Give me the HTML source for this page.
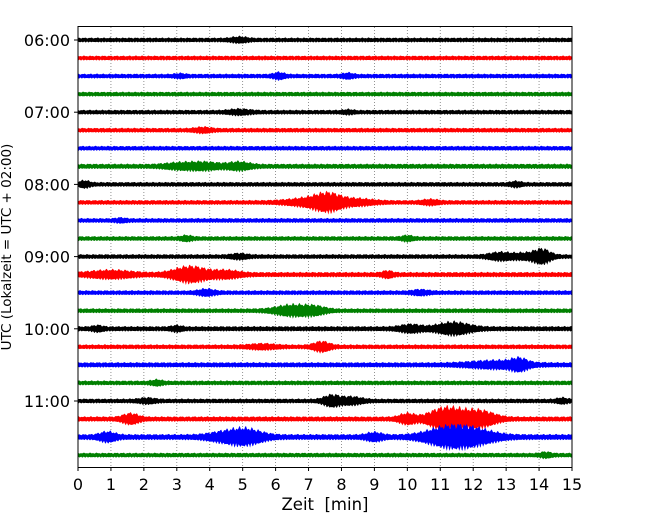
<!DOCTYPE html>
<html><head><meta charset="utf-8"><style>
body{margin:0;background:#fff}
svg{display:block;font-family:"DejaVu Sans","Liberation Sans",sans-serif}
</style></head><body>
<svg id="chart" width="650" height="520" viewBox="0 0 650 520" xmlns="http://www.w3.org/2000/svg">
<rect width="650" height="520" fill="#fff"/>
<g id="grid"></g>
<g id="traces"></g>
<rect x="78" y="26.5" width="494" height="441" fill="none" stroke="#000" stroke-width="1"/>
<g id="axes"></g>
<text x="325" y="510" font-size="16.5" text-anchor="middle" xml:space="preserve">Zeit  [min]</text>
<text transform="translate(11,247) rotate(-90)" font-size="13.5" text-anchor="middle">UTC (Lokalzeit = UTC + 02:00)</text>
</svg>
<script>
const xTicks=[0,1,2,3,4,5,6,7,8,9,10,11,12,13,14,15];
const rowLabels=["06:00","06:15","06:30","06:45","07:00","07:15","07:30","07:45","08:00","08:15","08:30","08:45","09:00","09:15","09:30","09:45","10:00","10:15","10:30","10:45","11:00","11:15","11:30","11:45"];
const baseAmp=[2,2,2,2,2,2,2,2.2,2,2,2,2,2,2.2,2,2,2.2,2,2.2,2,2,2.2,2.5,2];
// events per row: [time(min), amplitude(px), width(min)]
const events=[
[[4.9,1.5,0.3]],
[],
[[6.1,2,0.2],[3.1,1,0.2],[8.2,1.5,0.2]],
[],
[[4.9,1.5,0.4],[8.2,1,0.2]],
[[3.8,1.5,0.3]],
[],
[[3.8,2.5,0.6],[4.9,2.5,0.4],[3,1.5,0.5]],
[[0.2,2,0.2],[13.3,1.5,0.2]],
[[7.6,6,0.5],[7,2.5,0.8],[8.5,2,0.6],[10.7,1.5,0.3]],
[[1.3,1,0.2]],
[[10,1.5,0.2],[3.3,1.5,0.2]],
[[14.1,5,0.3],[12.8,2.5,0.4],[4.9,1.5,0.3],[13.6,2,0.5]],
[[3.4,6,0.6],[1,2.5,0.8],[4.5,2.5,0.5],[9.4,2,0.2]],
[[3.9,2,0.3],[10.4,1.5,0.3]],
[[6.5,4,0.6],[7.2,2.5,0.4]],
[[11.4,4.5,0.6],[10.1,2.5,0.4],[3,1.5,0.2],[0.6,1.5,0.2]],
[[7.4,3.5,0.3],[5.6,1.5,0.5]],
[[12.7,2.5,1],[13.4,3.5,0.3]],
[[2.4,1.5,0.2]],
[[7.7,4,0.3],[8.3,2.5,0.4],[2.1,1.5,0.3],[14.7,1.5,0.2]],
[[11.5,6.5,0.7],[10,3.5,0.3],[12.3,4.5,0.5],[1.6,3.5,0.3],[11,4.5,0.5]],
[[11.2,6.5,0.8],[12,5,0.8],[5.1,5.5,0.6],[4.4,2.5,0.6],[0.9,3,0.3],[9,2.5,0.3]],
[[14.2,1.5,0.2]]
];
const colors=["#000000","#ff0000","#0000ff","#008000"];
const NS="http://www.w3.org/2000/svg";
const X0=78,X1=572,Y0=40,DY=18.05;
const xs=t=>X0+(t/15)*(X1-X0);
const ys=i=>Y0+i*DY;
const grid=document.getElementById('grid'),tr=document.getElementById('traces'),ax=document.getElementById('axes');
xTicks.forEach(t=>{
  if(t>0&&t<15){
    const l=document.createElementNS(NS,'line');
    
    
    l.setAttribute('x1',xs(t));l.setAttribute('x2',xs(t));l.setAttribute('y1',27);l.setAttribute('y2',467);
    l.setAttribute('stroke','#777');l.setAttribute('stroke-width','0.8');l.setAttribute('stroke-dasharray','1,2');
    grid.appendChild(l);
  }
  const tk=document.createElementNS(NS,'line');
  
  
  tk.setAttribute('x1',xs(t));tk.setAttribute('x2',xs(t));tk.setAttribute('y1',467);tk.setAttribute('y2',471);tk.setAttribute('stroke','#000');
  ax.appendChild(tk);
  const tx=document.createElementNS(NS,'text');
  
  
  tx.setAttribute('x',xs(t));tx.setAttribute('y',490);tx.setAttribute('font-size','16');tx.setAttribute('text-anchor','middle');
  tx.textContent=t;ax.appendChild(tx);
});
rowLabels.forEach((lab,i)=>{
  const y=ys(i);
  const n=600,top=[],bot=[];
  for(let k=0;k<=n;k++){
    const t=15*k/n;
    let a=baseAmp[i];
    events[i].forEach(e=>{a+=e[1]*Math.exp(-Math.pow((t-e[0])/e[2],2));});
    const j=1+0.3*Math.sin(k*2.7+i*1.3)*Math.sin(k*1.9+i);
    const j2=1+0.3*Math.sin(k*3.3+i*0.7)*Math.sin(k*1.3+i*2);
    top.push(xs(t).toFixed(1)+','+(y-a*j).toFixed(1));
    bot.unshift(xs(t).toFixed(1)+','+(y+a*j2).toFixed(1));
  }
  const p=document.createElementNS(NS,'polygon');
  
  
  p.setAttribute('points',top.concat(bot).join(' '));
  p.setAttribute('fill',colors[i%4]);
  tr.appendChild(p);
  if(i%4===0){
    const tk=document.createElementNS(NS,'line');
    
    
    tk.setAttribute('x1',74);tk.setAttribute('x2',78);tk.setAttribute('y1',y);tk.setAttribute('y2',y);tk.setAttribute('stroke','#000');
    ax.appendChild(tk);
    const tx=document.createElementNS(NS,'text');
    
    
    tx.setAttribute('x',70);tx.setAttribute('y',y+6);tx.setAttribute('font-size','16');tx.setAttribute('text-anchor','end');
    tx.textContent=lab;ax.appendChild(tx);
  }
});
</script>
</body></html>
